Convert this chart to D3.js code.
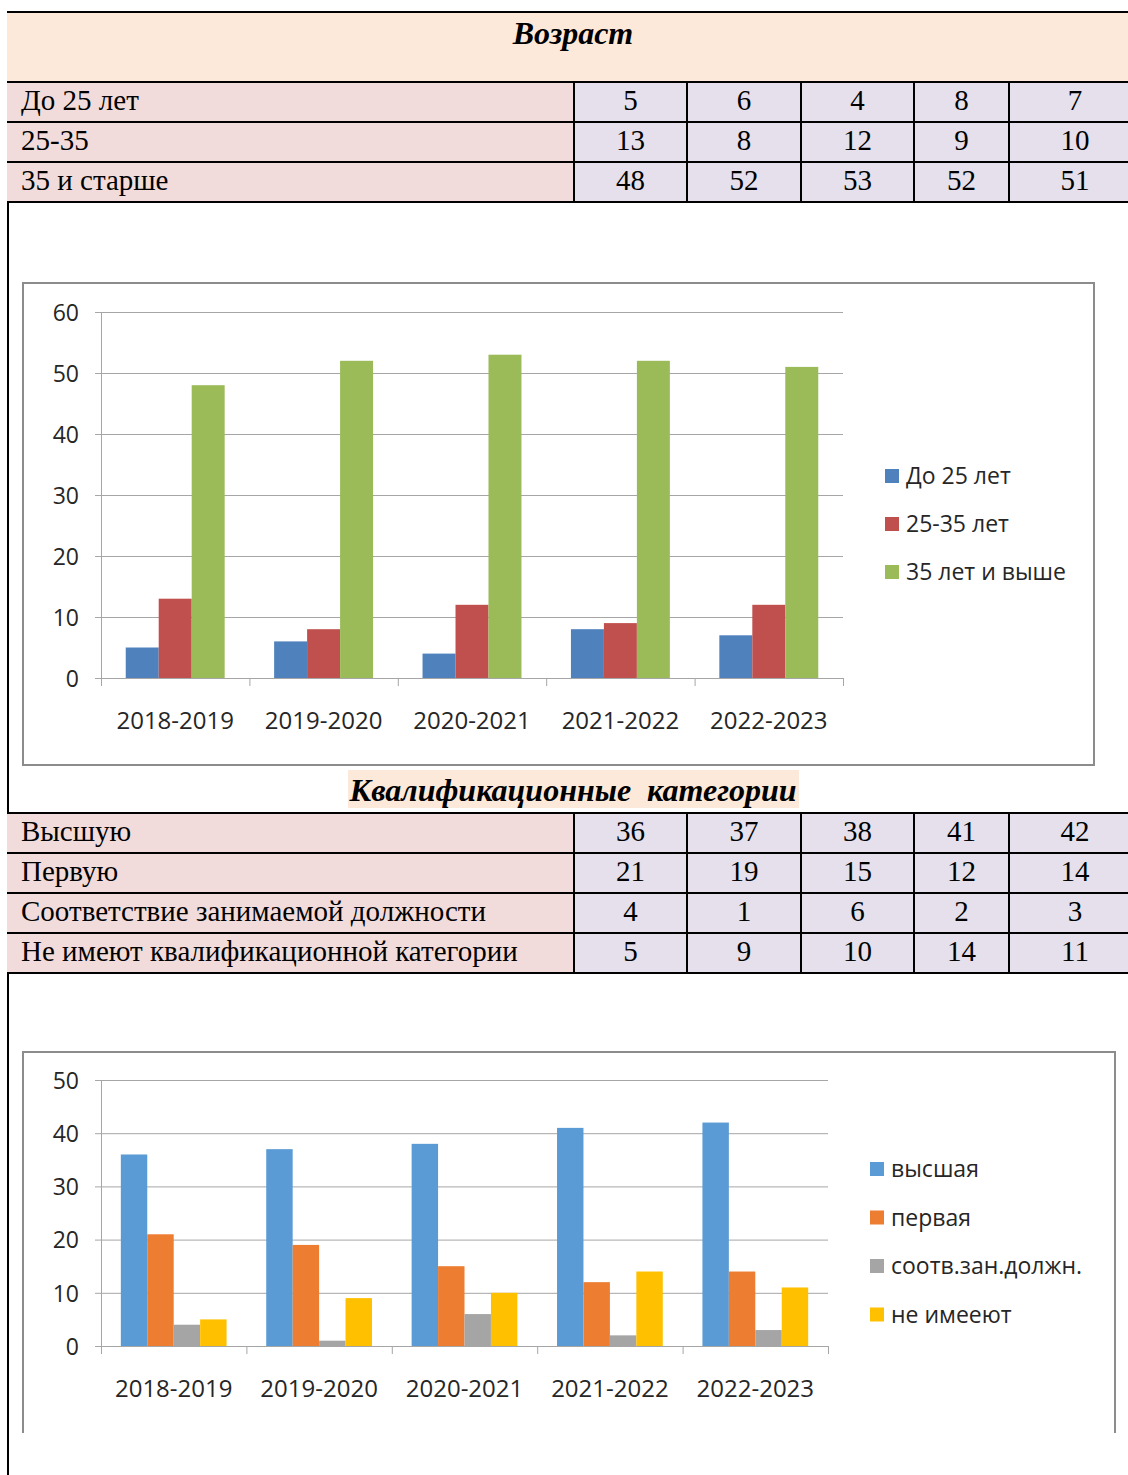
<!DOCTYPE html>
<html>
<head>
<meta charset="utf-8">
<script src="https://cdn.jsdelivr.net/npm/d3@7"></script>
<style>
  body { margin: 0; background: #fff; overflow: hidden; }
  svg { display: block; }
</style>
</head>
<body>
<div id="page"></div>
<script>
/// DATA

const years = ["2018-2019", "2019-2020", "2020-2021", "2021-2022", "2022-2023"]

const ageTitle = "Возраст"
const ageRows = ["До 25 лет", "25-35", "35 и старше"]
const ageUnder25 = [5, 6, 4, 8, 7]
const age25to35 = [13, 8, 12, 9, 10]
const age35plus = [48, 52, 53, 52, 51]
// the chart in the document shows 12 for the last 25-35 bar, not the table's 10
const age25to35Chart = [13, 8, 12, 9, 12]
const ageLegend = ["До 25 лет", "25-35 лет", "35 лет и выше"]
const ageTicks = [0, 10, 20, 30, 40, 50, 60]

const qualTitle = "Квалификационные  категории"
const qualRows = [
  "Высшую",
  "Первую",
  "Соответствие занимаемой должности",
  "Не имеют квалификационной категории",
]
const qualHigh = [36, 37, 38, 41, 42]
const qualFirst = [21, 19, 15, 12, 14]
const qualMatch = [4, 1, 6, 2, 3]
const qualNone = [5, 9, 10, 14, 11]
const qualLegend = ["высшая", "первая", "соотв.зан.должн.", "не имееют"]
const qualTicks = [0, 10, 20, 30, 40, 50]

/// LAYOUT

const width = 1128
const height = 1475
const colEdges = [7, 574, 687, 801, 914, 1009, 1141]
const rowH = 40
const serif = "'Liberation Serif', 'Times New Roman', serif"
const sans = "'Open Sans', sans-serif"

const svg = d3
  .select("#page")
  .append("svg")
  .attr("width", width)
  .attr("height", height)
  .attr("viewBox", [0, 0, width, height])

// outer left border of the page table
svg
  .append("line")
  .attr("x1", 8).attr("x2", 8)
  .attr("y1", 12).attr("y2", height)
  .attr("stroke", "#000")
  .attr("stroke-width", 2)

/// TABLES

function drawTable(top, labels, series) {
  const g = svg.append("g")
  const rows = labels.map((label, i) => ({ label, values: series[i], y: top + i * rowH }))

  rows.forEach((r) => {
    g.append("rect")
      .attr("x", colEdges[0]).attr("y", r.y)
      .attr("width", colEdges[1] - colEdges[0]).attr("height", rowH)
      .attr("fill", "#f2dcdb")
    g.append("rect")
      .attr("x", colEdges[1]).attr("y", r.y)
      .attr("width", colEdges[6] - colEdges[1]).attr("height", rowH)
      .attr("fill", "#e5e0ec")
    g.append("text")
      .attr("x", 21).attr("y", r.y + 28)
      .style("font-family", serif).style("font-size", "29px")
      .attr("fill", "#000")
      .text(r.label)
    g.selectAll(null)
      .data(r.values)
      .join("text")
      .attr("x", (d, j) => (colEdges[j + 1] + colEdges[j + 2]) / 2)
      .attr("y", r.y + 28)
      .attr("text-anchor", "middle")
      .style("font-family", serif).style("font-size", "29px")
      .attr("fill", "#000")
      .text((d) => d)
  })

  // grid lines
  d3.range(labels.length + 1).forEach((i) => {
    g.append("line")
      .attr("x1", colEdges[0]).attr("x2", colEdges[6])
      .attr("y1", top + i * rowH).attr("y2", top + i * rowH)
      .attr("stroke", "#000").attr("stroke-width", 2)
  })
  colEdges.slice(1, 6).forEach((x) => {
    g.append("line")
      .attr("x1", x).attr("x2", x)
      .attr("y1", top).attr("y2", top + labels.length * rowH)
      .attr("stroke", "#000").attr("stroke-width", 2)
  })
}

// header of the first table
svg.append("rect")
  .attr("x", 7).attr("y", 12).attr("width", width - 7).attr("height", 70)
  .attr("fill", "#fde9d9")
svg.append("line")
  .attr("x1", 7).attr("x2", width).attr("y1", 12).attr("y2", 12)
  .attr("stroke", "#000").attr("stroke-width", 2)
svg.append("text")
  .attr("x", 573).attr("y", 44)
  .attr("text-anchor", "middle")
  .style("font-family", serif).style("font-size", "32px")
  .style("font-weight", "bold").style("font-style", "italic")
  .text(ageTitle)

drawTable(82, ageRows, [ageUnder25, age25to35, age35plus])

// title of the second table
svg.append("rect")
  .attr("x", 348).attr("y", 770).attr("width", 451).attr("height", 38)
  .attr("fill", "#fde9d9")
svg.append("text")
  .attr("x", 573).attr("y", 801)
  .attr("text-anchor", "middle")
  .style("font-family", serif).style("font-size", "32px")
  .style("font-weight", "bold").style("font-style", "italic")
  .style("white-space", "pre")
  .text(qualTitle)

const qualSeries = [qualHigh, qualFirst, qualMatch, qualNone]
drawTable(813, qualRows, qualSeries)

/// CHARTS

function drawChart(cfg) {
  const g = svg.append("g")

  const xScale = d3.scaleBand().domain(years).range([cfg.left, cfg.right])
  const nKeys = cfg.keys.length
  const xInner = d3
    .scaleBand()
    .domain(d3.range(nKeys))
    .range([0, xScale.bandwidth()])
    .paddingInner(0)
    .paddingOuter(0.75)
  const yScale = d3.scaleLinear().domain(d3.extent(cfg.ticks)).range([cfg.bottom, cfg.top])

  // grid
  g.append("g")
    .attr("transform", `translate(${cfg.left},0)`)
    .call(d3.axisLeft(yScale).tickValues(cfg.ticks).tickFormat("").tickSizeInner(-(cfg.right - cfg.left)).tickSizeOuter(0))
    .call((a) => a.select(".domain").remove())
    .call((a) => a.selectAll("line").attr("stroke", "#a6a6a6"))

  // y axis
  g.append("g")
    .attr("transform", `translate(${cfg.left},0)`)
    .call(d3.axisLeft(yScale).tickValues(cfg.ticks).tickSizeInner(6).tickSizeOuter(0).tickPadding(16))
    .call((a) => a.select(".domain").attr("stroke", "#a6a6a6"))
    .call((a) => a.selectAll("line").attr("stroke", "#a6a6a6"))
    .call((a) => a.selectAll("text").style("font-family", sans).style("font-size", "23px").attr("fill", "#262626").attr("dy", "0.36em"))

  // bars
  g.selectAll(null)
    .data(cfg.keys)
    .join("g")
    .attr("fill", (d, k) => cfg.colors[k])
    .selectAll("rect")
    .data((d, k) => cfg.series[k].map((v, i) => ({ k, v, year: years[i] })))
    .join("rect")
    .attr("x", (d) => xScale(d.year) + xInner(d.k))
    .attr("y", (d) => yScale(d.v))
    .attr("width", xInner.bandwidth())
    .attr("height", (d) => cfg.bottom - yScale(d.v))

  // x axis line with category boundary ticks
  const xEdges = d3.scaleLinear().domain([0, years.length]).range([cfg.left, cfg.right])
  g.append("g")
    .attr("transform", `translate(0,${cfg.bottom})`)
    .call(d3.axisBottom(xEdges).tickValues(d3.range(years.length + 1)).tickFormat("").tickSizeInner(8).tickSizeOuter(0))
    .call((a) => a.selectAll("path, line").attr("stroke", "#a6a6a6"))

  // x labels
  g.append("g")
    .attr("transform", `translate(0,${cfg.bottom})`)
    .call(d3.axisBottom(xScale).tickSize(0).tickPadding(cfg.labelPad))
    .call((a) => a.select(".domain").remove())
    .call((a) => a.selectAll("text").style("font-family", sans).style("font-size", "24px").attr("fill", "#262626"))

  // legend
  const legend = g.selectAll(".legend")
    .data(cfg.legend)
    .join("g")
    .attr("transform", (d, i) => `translate(${cfg.legendX},${cfg.legendY + i * cfg.legendStep})`)
  legend.append("rect")
    .attr("x", 0).attr("y", -7).attr("width", 14).attr("height", 14)
    .attr("fill", (d, i) => cfg.colors[i])
  legend.append("text")
    .attr("x", 21).attr("dy", "0.36em")
    .style("font-family", sans).style("font-size", "23px")
    .attr("fill", "#262626")
    .text((d) => d)
}

// frame of chart 1
svg.append("rect")
  .attr("x", 23).attr("y", 283).attr("width", 1071).attr("height", 482)
  .attr("fill", "#fff").attr("stroke", "#8c8c8c").attr("stroke-width", 2)

drawChart({
  keys: ageLegend,
  series: [ageUnder25, age25to35Chart, age35plus],
  colors: ["#4f81bd", "#c0504d", "#9bbb59"],
  ticks: ageTicks,
  left: 101, right: 843, top: 312, bottom: 678,
  labelPad: 34,
  legend: ageLegend,
  legendX: 885, legendY: 476, legendStep: 48,
})

// frame of chart 2 (open at the bottom)
svg.append("path")
  .attr("d", "M23,1433 V1052 H1115 V1433")
  .attr("fill", "none").attr("stroke", "#8c8c8c").attr("stroke-width", 2)

drawChart({
  keys: qualLegend,
  series: qualSeries,
  colors: ["#5b9bd5", "#ed7d31", "#a5a5a5", "#ffc000"],
  ticks: qualTicks,
  left: 101, right: 828, top: 1080, bottom: 1346,
  labelPad: 34,
  legend: qualLegend,
  legendX: 870, legendY: 1169, legendStep: 48.5,
})
</script>
</body>
</html>
